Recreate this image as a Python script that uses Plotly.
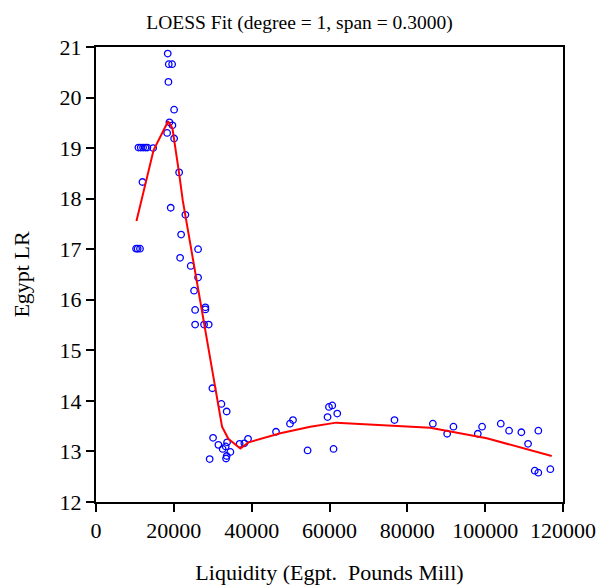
import plotly.graph_objects as go

# Scatter data (Liquidity vs Egypt LR)
liq = [18430, 18690, 19560, 18610, 20070, 18870, 19640, 18280, 20070,
       10900, 11500, 12100, 12700, 13200, 14680, 21360, 11940, 19200, 22970, 21870,
       10300, 10700, 11300,
       26230, 21610, 24340, 26230, 25200, 25470, 28110, 28110, 25470, 27770, 28960,
       29910, 32220, 33580, 30080, 31450, 33680, 32550, 33320, 34530, 33580, 33420,
       29210, 36910, 38120, 39070, 46260,
       49850, 50620, 54370, 59500, 59860, 60710, 61990, 61040, 76700,
       86560, 90230, 91850, 98110, 99210, 104010, 106140, 109300, 111020, 113660,
       112740, 113660, 116750]
lr = [20.87, 20.66, 20.66, 20.31, 19.76, 19.51, 19.45, 19.30, 19.19,
      19.01, 19.01, 19.01, 19.01, 19.01, 19.00, 18.52, 18.33, 17.82, 17.68, 17.29,
      17.01, 17.01, 17.01,
      17.00, 16.83, 16.67, 16.44, 16.18, 15.80, 15.85, 15.81, 15.51, 15.51, 15.51,
      14.25, 13.94, 13.79, 13.27, 13.13, 13.18, 13.05, 13.10, 12.99, 12.91, 12.86,
      12.85, 13.15, 13.16, 13.25, 13.39,
      13.55, 13.62, 13.02, 13.68, 13.88, 13.91, 13.75, 13.05, 13.62,
      13.55, 13.35, 13.49, 13.35, 13.49, 13.55, 13.41, 13.38, 13.15, 13.41,
      12.62, 12.58, 12.65]

# LOESS fit line
fit_x = [10400, 14800, 18530, 19640, 21360, 22280, 32390, 34000, 37090, 39220,
         47360, 55060, 61740, 73000, 85870, 100420, 117100]
fit_y = [17.56, 18.96, 19.53, 19.39, 18.50, 17.97, 13.49, 13.25, 13.06, 13.18,
         13.36, 13.49, 13.57, 13.53, 13.47, 13.26, 12.91]

x_ticks = [0, 20000, 40000, 60000, 80000, 100000, 120000]
y_ticks = [12, 13, 14, 15, 16, 17, 18, 19, 20, 21]

FONT = "Liberation Serif"

fig = go.Figure()
fig.add_trace(go.Scatter(
    x=liq, y=lr, mode="markers",
    marker=dict(symbol="circle-open", size=6.5, color="#0000FF",
                line=dict(width=1.3, color="#0000FF")),
    showlegend=False, hoverinfo="x+y"))
fig.add_trace(go.Scatter(
    x=fit_x, y=fit_y, mode="lines",
    line=dict(color="#FF0000", width=2),
    showlegend=False))

axis_common = dict(
    showgrid=False, zeroline=False, showline=True, linecolor="black",
    linewidth=2, mirror=True, ticks="outside", ticklen=8, tickwidth=1.5,
    tickcolor="black", tickfont=dict(family=FONT, size=22, color="black"),
)

fig.update_layout(
    width=599, height=585,
    margin=dict(l=96, r=36, t=47, b=83, autoexpand=False),
    paper_bgcolor="white", plot_bgcolor="white",
    font=dict(family=FONT, color="black"),
    title=dict(text="LOESS Fit (degree = 1, span = 0.3000)",
               x=0.5, xref="container", xanchor="center",
               y=0.962, yref="container", yanchor="middle",
               font=dict(family=FONT, size=19.5, color="black")),
    xaxis=dict(range=[0, 120000], tickvals=x_ticks,
               ticktext=[str(v) for v in x_ticks],
               title=dict(text="Liquidity (Egpt.  Pounds Mill)", standoff=22,
                          font=dict(family=FONT, size=22, color="black")),
               automargin=False, **axis_common),
    yaxis=dict(range=[12, 21], tickvals=y_ticks,
               ticktext=[str(v) for v in y_ticks],
               title=dict(text="Egypt LR", standoff=24,
                          font=dict(family=FONT, size=22, color="black")),
               automargin=False, **axis_common),
)

fig.write_html("out.html")
